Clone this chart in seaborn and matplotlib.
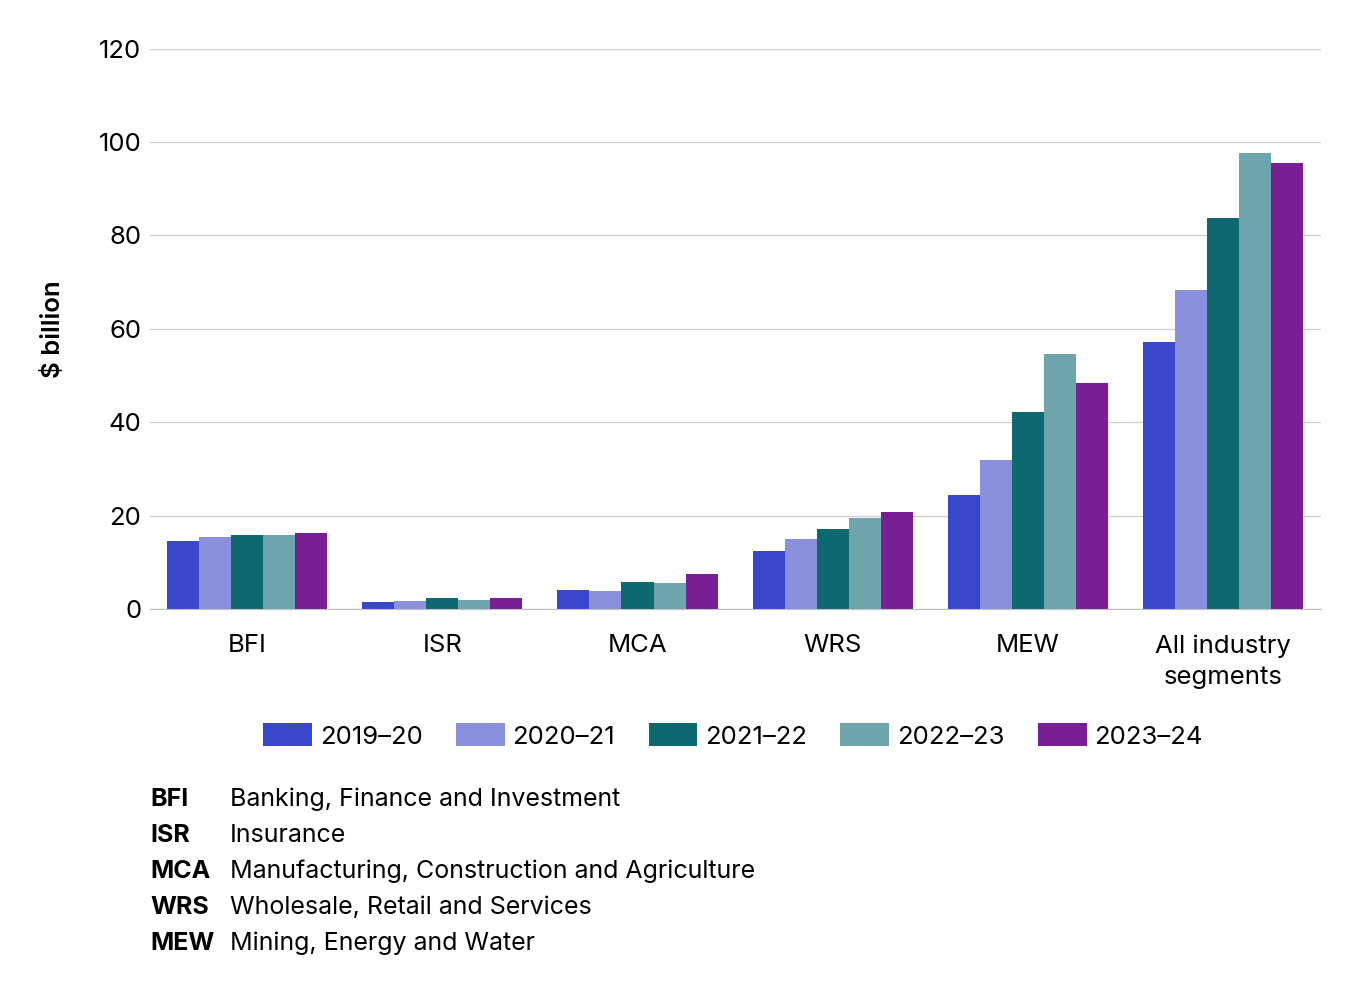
import pandas as pd
import matplotlib.pyplot as plt
import seaborn as sns

# Data ($ billion)
segments = ["BFI", "ISR", "MCA", "WRS", "MEW", "All industry\nsegments"]
years = ["2019–20", "2020–21", "2021–22", "2022–23", "2023–24"]
v_2019_20 = [14.6, 1.6, 4.1, 12.4, 24.4, 57.2]
v_2020_21 = [15.4, 1.8, 3.9, 15.0, 31.9, 68.4]
v_2021_22 = [15.9, 2.4, 5.8, 17.1, 42.2, 83.8]
v_2022_23 = [15.9, 1.9, 5.6, 19.5, 54.6, 97.7]
v_2023_24 = [16.3, 2.3, 7.5, 20.8, 48.4, 95.6]
colours = ["#3a46cc", "#8a90de", "#0e6870", "#6ea5ad", "#781f96"]

abbrevs = ["BFI", "ISR", "MCA", "WRS", "MEW"]
descriptions = ["Banking, Finance and Investment", "Insurance",
                "Manufacturing, Construction and Agriculture",
                "Wholesale, Retail and Services", "Mining, Energy and Water"]

series = [v_2019_20, v_2020_21, v_2021_22, v_2022_23, v_2023_24]
rows = []
for year, vals in zip(years, series):
    for seg, v in zip(segments, vals):
        rows.append({"segment": seg, "year": year, "value": v})
df = pd.DataFrame(rows)

sns.set_style("white")
plt.rcParams["font.family"] = ["Inter", "DejaVu Sans"]
plt.rcParams["text.color"] = "black"
plt.rcParams["axes.labelcolor"] = "black"
plt.rcParams["xtick.labelcolor"] = "black"
plt.rcParams["ytick.labelcolor"] = "black"

fig = plt.figure(figsize=(13.6, 9.92), dpi=100)
ax = fig.add_axes([0.110, 0.386, 0.861, 0.565])

sns.barplot(data=df, x="segment", y="value", hue="year", palette=colours,
            width=0.82, saturation=1, linewidth=0, ax=ax, legend=True)

ax.set_ylim(0, 120)
ax.set_yticks(range(0, 121, 20))
ax.set_xlim(-0.5, 5.5)
ax.grid(axis="y", color="#d0d0d0", linewidth=1)
ax.set_axisbelow(True)
for side in ["top", "right", "left"]:
    ax.spines[side].set_visible(False)
ax.spines["bottom"].set_color("#c0c0c0")
ax.tick_params(axis="x", length=9, color="#c8c8c8", labelsize=18.5, pad=9)
ax.tick_params(axis="y", length=0, labelsize=18.5, pad=6)
ax.set_xlabel("")
ax.set_ylabel("\\$ billion", fontsize=18.5, fontweight="semibold", labelpad=24)
for lab in ax.get_xticklabels():
    lab.set_linespacing(1.45)

handles, labels = ax.get_legend_handles_labels()
ax.get_legend().remove()
fig.legend(handles, labels, loc="center", bbox_to_anchor=(0.539, 0.258),
           ncol=5, frameon=False, fontsize=18.5, handlelength=1.9,
           handleheight=1.0, columnspacing=1.3, handletextpad=0.3)

# Abbreviation key
for i, (ab, desc) in enumerate(zip(abbrevs, descriptions)):
    y = 1 - (799 + 36 * i) / 992
    fig.text(150 / 1360, y, ab, fontsize=18, fontweight="bold", va="center")
    fig.text(230 / 1360, y, desc, fontsize=18, va="center")

fig.savefig("out.png", dpi=100)
